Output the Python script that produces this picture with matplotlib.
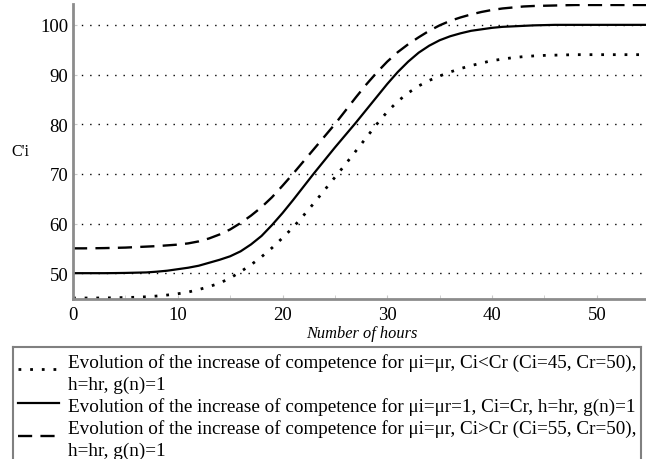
import matplotlib.pyplot as plt
import numpy as np
from matplotlib.ticker import MultipleLocator

hours = list(range(0, 56))
c_low = [45, 45, 45, 45.02, 45.05, 45.1, 45.15, 45.25, 45.4, 45.6,
         45.85, 46.2, 46.7, 47.3, 48.0, 49.0, 50.3, 51.7, 53.3, 55.1,
         57.1, 59.2, 61.6, 64.1, 66.7, 69.3, 71.9, 74.6, 77.3, 80.0,
         82.5, 84.6, 86.3, 87.7, 88.8, 89.7, 90.5, 91.2, 91.8, 92.3,
         92.8, 93.1, 93.4, 93.6, 93.75, 93.85, 93.9, 93.95, 94, 94,
         94, 94, 94, 94, 94, 94]
c_equal = [50, 50, 50, 50, 50.02, 50.05, 50.1, 50.15, 50.3, 50.5,
           50.8, 51.1, 51.5, 52.1, 52.7, 53.4, 54.4, 55.8, 57.5, 59.7,
           62.1, 64.7, 67.4, 70.1, 72.7, 75.3, 77.8, 80.3, 82.9, 85.5,
           88.1, 90.5, 92.6, 94.4, 95.8, 96.9, 97.7, 98.3, 98.8, 99.1,
           99.4, 99.6, 99.7, 99.8, 99.9, 99.95, 100, 100, 100, 100,
           100, 100, 100, 100, 100, 100]
c_high = [55, 55, 55.02, 55.05, 55.1, 55.15, 55.25, 55.35, 55.45, 55.6,
          55.75, 56.0, 56.4, 57.0, 57.8, 58.8, 60.1, 61.6, 63.3, 65.3,
          67.6, 70.0, 72.5, 75.0, 77.5, 80.0, 82.7, 85.4, 88.0, 90.4,
          92.6, 94.5, 96.1, 97.5, 98.8, 99.9, 100.8, 101.5, 102.1, 102.6,
          103.0, 103.3, 103.5, 103.7, 103.8, 103.85, 103.9, 103.95, 104, 104,
          104, 104, 104, 104, 104, 104]

labels = [
    "Evolution of the increase of competence for \u03bci=\u03bcr, Ci<Cr (Ci=45, Cr=50),\nh=hr, g(n)=1",
    "Evolution of the increase of competence for \u03bci=\u03bcr=1, Ci=Cr, h=hr, g(n)=1",
    "Evolution of the increase of competence for \u03bci=\u03bcr, Ci>Cr (Ci=55, Cr=50),\nh=hr, g(n)=1",
]
x_ticks = [0, 10, 20, 30, 40, 50]
y_ticks = [50, 60, 70, 80, 90, 100]

plt.rcParams['font.family'] = ['Liberation Serif', 'DejaVu Serif']

W, H = 646, 460
fig = plt.figure(figsize=(W / 100, H / 100), dpi=100)
ax = fig.add_axes([73 / W, 1 - 300 / H, 1 - 73 / W, 295 / H])

styles = [dict(ls=(0, (1, 3.2)), lw=2.0),
          dict(ls='-', lw=1.6),
          dict(ls=(0, (6, 3.5)), lw=1.7)]
series = [c_low, c_equal, c_high]
for vals, st in zip(series, styles):
    ax.plot(hours, vals, color='black', **st)

ax.set_xlim(0, 54.7)
ax.set_ylim(44.8, 104.2)
ax.set_xticks(x_ticks)
ax.set_yticks(y_ticks)
ax.xaxis.set_minor_locator(MultipleLocator(5))
ax.tick_params(labelsize=13.5, length=3, width=0.8, color='#c8c8c8', direction='in')
ax.tick_params(axis='x', which='minor', length=3, color='#c8c8c8', direction='in')
ax.tick_params(axis='x', pad=5)
ax.yaxis.grid(True, color='black', ls=(0, (1, 5)), lw=1.0)
for s in ['top', 'right']:
    ax.spines[s].set_visible(False)
for s in ['left', 'bottom']:
    ax.spines[s].set_color('#8c8c8c')
    ax.spines[s].set_linewidth(2)

fig.text(362 / W, 1 - 334 / H, 'Number of hours', style='italic', fontsize=11.8,
         ha='center', va='center')
fig.text(20 / W, 1 - 152 / H, "C'i", fontsize=11.5, ha='center', va='center')

# legend box drawn by hand so the handle sits on the first text line
lg = fig.add_axes([13 / W, -0.02, (641 - 13) / W, (460 - 348) / H + 0.02])
lg.set_xlim(0, 628)
lg.set_ylim(112 + 0.02 * H, 0)
lg.set_xticks([])
lg.set_yticks([])
for s in lg.spines.values():
    s.set_color('#808080')
    s.set_linewidth(1.5)

handle_y = [22, 56, 89]
text_top = [15, 59, 81]
for lab, st, hy, ty in zip(labels, styles, handle_y, text_top):
    lg.plot([5, 46], [hy, hy], color='black', **st)
    for i, line in enumerate(lab.split('\n')):
        lg.text(55, ty + 22 * i, line, fontsize=13.8, va='center', ha='left')

fig.savefig('out.png', dpi=100)
